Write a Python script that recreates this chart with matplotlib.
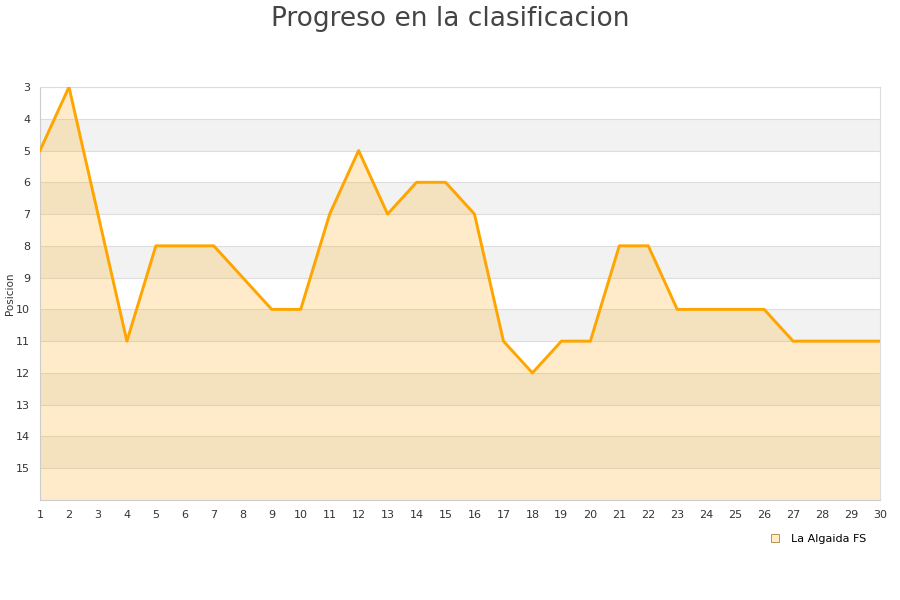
import matplotlib
matplotlib.use("Agg")
import matplotlib.pyplot as plt
from matplotlib.lines import Line2D

jornadas = list(range(1, 31))
posiciones = [5, 3, 7, 11, 8, 8, 8, 9, 10, 10, 7, 5, 7, 6, 6, 7, 11, 12, 11, 11,
              8, 8, 10, 10, 10, 10, 11, 11, 11, 11]
equipo = "La Algaida FS"
y_ticks = list(range(3, 16))

fig = plt.figure(figsize=(9, 6), dpi=100)
ax = fig.add_axes([40/900, 100/600, 840/900, 413/600])

ymin, ymax = 3, 16
# alternating bands
for k in range(ymin, ymax):
    if (k - ymin) % 2 == 1:
        ax.axhspan(k, k + 1, color="#f2f2f2", zorder=0, lw=0)
for k in range(ymin, ymax + 1):
    ax.axhline(k, color="#dddddd", lw=0.8, zorder=1)

ax.fill_between(jornadas, posiciones, ymax, color="#ffa500", alpha=0.21, lw=0, zorder=2)
ax.plot(jornadas, posiciones, color="#ffa500", lw=2.1, zorder=3)

ax.set_xlim(1, 30)
ax.set_ylim(ymax, ymin)
ax.set_xticks(jornadas)
ax.set_yticks(y_ticks)
ax.tick_params(axis="both", length=0, labelsize=8, colors="#333333")
ax.tick_params(axis="x", pad=7)
ax.tick_params(axis="y", pad=7)
for s in ax.spines.values():
    s.set_color("#cccccc")
    s.set_linewidth(0.8)
ax.spines["top"].set_color("#dddddd")
ax.spines["right"].set_color("#dddddd")

ax.set_ylabel("Posicion", fontsize=7.5, color="#333333")
ax.yaxis.set_label_coords(-0.03, 0.5)

fig.suptitle("Progreso en la clasificacion", fontsize=19, color="#444444", y=0.99, va="top")

handle = Line2D([], [], marker="s", linestyle="none", markersize=6,
                markerfacecolor="#ffecc9", markeredgecolor="#b08040", markeredgewidth=0.6)
fig.legend([handle], [equipo], loc="center", bbox_to_anchor=(815/900, 1 - 539/600),
           frameon=False, fontsize=8, handletextpad=0.4, borderaxespad=0)

fig.savefig("out.png", dpi=100)
